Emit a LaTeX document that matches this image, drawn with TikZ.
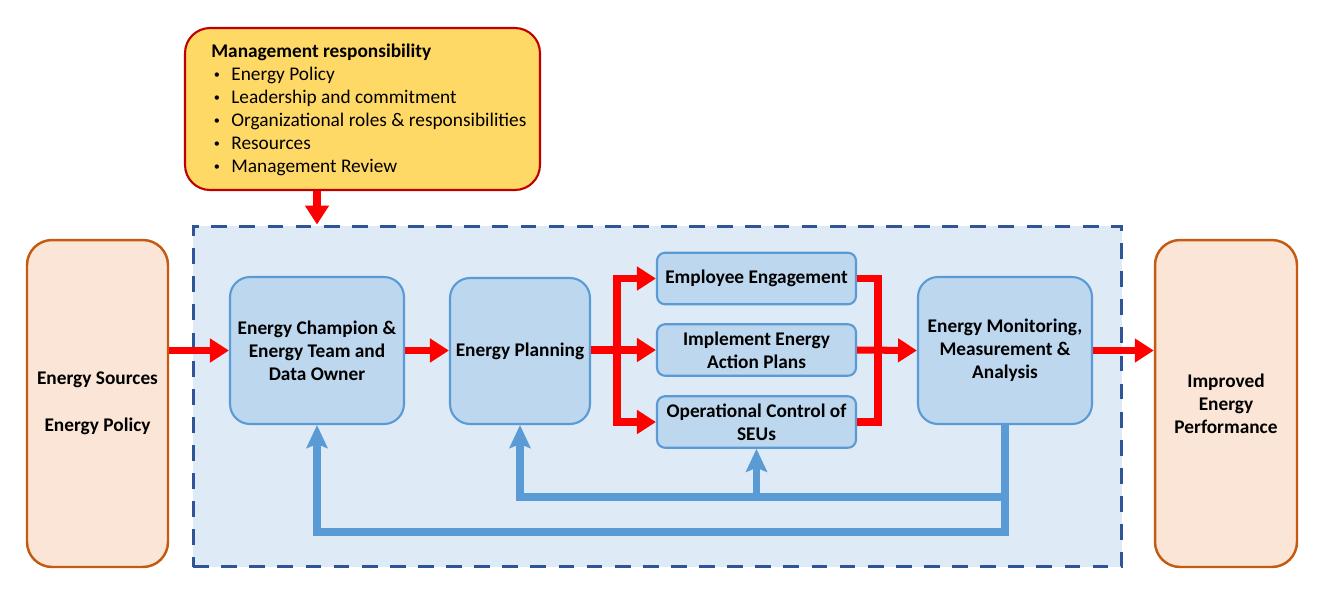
\documentclass[tikz,border=0pt]{standalone}
\usepackage{fontspec}
\setmainfont{Carlito}
\usepackage{tikz}
\usetikzlibrary{arrows.meta,positioning,calc}
\usepackage{xcolor}
\definecolor{enyellow}{RGB}{255,217,102}
\definecolor{endarkred}{RGB}{192,0,0}
\definecolor{enpeach}{RGB}{251,229,214}
\definecolor{enorange}{RGB}{197,90,17}
\definecolor{enpale}{RGB}{222,235,247}
\definecolor{ennavy}{RGB}{47,85,151}
\definecolor{enlight}{RGB}{189,215,238}
\definecolor{enblue}{RGB}{91,155,213}
\definecolor{enred}{RGB}{255,0,0}
\newcommand{\enfont}{\fontsize{11}{13}\selectfont}
\newcommand{\mgmtitem}[1]{\makebox[11.4pt][l]{\hspace{1.5pt}\raisebox{0.2ex}{\scriptsize\textbullet}}#1}
\tikzset{
    mgmtbox/.style={rectangle, rounded corners=0.5cm, draw=endarkred, fill=enyellow, line width=1.2pt, minimum width=7.1cm, minimum height=3.24cm},
    srcbox/.style={rectangle, rounded corners=0.5cm, draw=enorange, fill=enpeach, line width=1.4pt, minimum width=2.82cm, minimum height=6.54cm, align=center, font=\enfont\bfseries, inner sep=0pt},
    areabox/.style={rectangle, draw=ennavy, fill=enpale, line width=1.7pt, dash pattern=on 9pt off 7pt, minimum width=18.58cm, minimum height=6.82cm},
    stepbox/.style={rectangle, rounded corners=0.4cm, draw=enblue, fill=enlight, line width=1.2pt, minimum width=3.48cm, minimum height=2.94cm, align=center, font=\enfont\bfseries, inner sep=0pt},
    subbox/.style={rectangle, rounded corners=0.16cm, draw=enblue, fill=enlight, line width=1.2pt, minimum width=3.98cm, minimum height=1.03cm, align=center, font=\enfont\bfseries, inner sep=0pt},
    redline/.style={line width=4pt, enred},
    redarrow/.style={redline, -{Triangle[length=0.38cm, width=0.46cm]}},
    blueline/.style={line width=4pt, enblue},
    bluearrow/.style={blueline, -{Stealth[length=0.46cm, width=0.42cm, inset=0.08cm]}},
}
\begin{document}
\begin{tikzpicture}[x=0.02cm, y=-0.02cm]
    \useasboundingbox (0,0) rectangle (1323,610);
    \node[areabox] (area) at (657.5,396.5) {};
    \node[mgmtbox] (mgmt) at (362.5,109) {};
    \node[anchor=north west, align=left, inner sep=0pt, font=\enfont] (mgmttext) at (211,44)
        {\textbf{Management responsibility}\\
         \mgmtitem{Energy Policy}\\
         \mgmtitem{Leadership and commitment}\\
         \mgmtitem{Organizational roles \& responsibilities}\\
         \mgmtitem{Resources}\\
         \mgmtitem{Management Review}};
    \node[srcbox] (src) at (97.5,403.5) {Energy Sources\\[14pt]Energy Policy};
    \node[srcbox, minimum width=2.84cm] (perf) at (1226,403.5) {Improved\\Energy\\Performance};
    \node[stepbox] (champ) at (317,350.5) {Energy Champion \&\\Energy Team and\\Data Owner};
    \node[stepbox, minimum width=2.8cm, minimum height=2.92cm] (plan) at (520,351) {Energy Planning};
    \node[subbox] (emp) at (756.5,278.5) {Employee Engagement};
    \node[subbox] (impl) at (756.5,350) {Implement Energy\\Action Plans};
    \node[subbox] (ops) at (756.5,422) {Operational Control of\\SEUs};
    \node[stepbox] (mon) at (1005,350.5) {Energy Monitoring,\\Measurement \&\\Analysis};
    % red flow
    \coordinate (split) at (617,350);
    \coordinate (merge) at (878,350);
    \draw[redarrow] (mgmt.south -| champ.north) -- (area.north -| champ.north);
    \draw[redarrow] (src.east |- champ.west) -- (champ.west);
    \draw[redarrow] (champ.east) -- (plan.west |- champ.east);
    \draw[redarrow] (plan.east |- impl.west) -- (impl.west);
    \draw[redarrow] (split) |- (emp.west);
    \draw[redarrow] (split) |- (ops.west);
    \draw[redline] (emp.east) -| (merge) |- (ops.east);
    \draw[redarrow] (impl.east) -- (mon.west);
    \draw[redarrow] (mon.east) -- (perf.west |- mon.east);
    % feedback
    \coordinate (fbhi) at (1005,497);
    \coordinate (fblo) at (1005,532);
    \draw[bluearrow] (mon.south) -- (fblo) -| (champ.south);
    \draw[bluearrow] (fbhi) -| (plan.south);
    \draw[bluearrow] (fbhi -| ops.south) -- (ops.south);
\end{tikzpicture}
\end{document}
